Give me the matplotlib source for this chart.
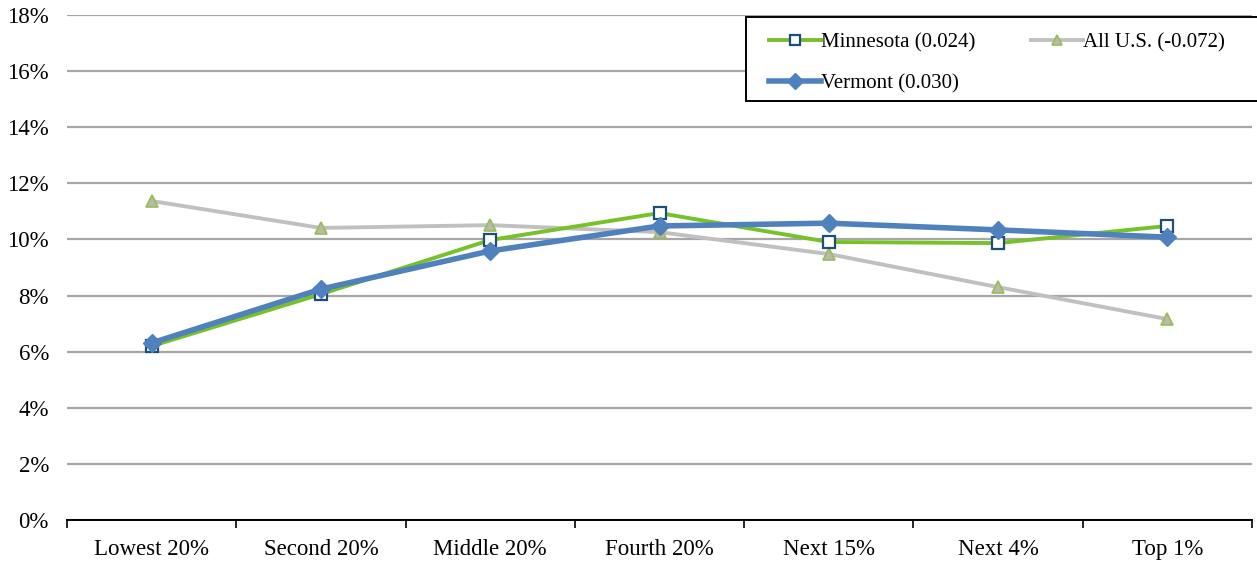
import numpy as np
import matplotlib
matplotlib.use("Agg")
import matplotlib.pyplot as plt
from matplotlib.patches import Rectangle
from matplotlib.ticker import FuncFormatter, FixedLocator

plt.rcParams['font.family'] = ['Liberation Serif', 'DejaVu Serif']

categories = ['Lowest 20%', 'Second 20%', 'Middle 20%', 'Fourth 20%',
              'Next 15%', 'Next 4%', 'Top 1%']
minnesota = [6.20, 8.05, 9.98, 10.94, 9.91, 9.87, 10.48]
all_us = [11.37, 10.41, 10.51, 10.26, 9.48, 8.30, 7.16]
vermont = [6.31, 8.23, 9.59, 10.48, 10.58, 10.34, 10.08]

fig = plt.figure(figsize=(12.57, 5.61), dpi=100)
ax = fig.add_axes([67 / 1257, 41 / 561, (1252 - 67) / 1257, (520 - 15) / 561])

x = np.arange(len(categories))

l_us, = ax.plot(x, all_us, color='#C0C0C0', lw=2.8, marker='^', ms=9,
                mfc='#B7BCA8', mec='#9BBB59', mew=1.2, zorder=3,
                label='All U.S. (-0.072)')
l_mn, = ax.plot(x, minnesota, color='#77C12A', lw=2.8, marker='s', ms=8.5,
                mfc='white', mec='#1F4E79', mew=1.6, zorder=4,
                label='Minnesota (0.024)')
l_vt, = ax.plot(x, vermont, color='#4F81BD', lw=4.0, marker='D', ms=9,
                mfc='#4F81BD', mec='#4F81BD', zorder=5,
                label='Vermont (0.030)')

ax.set_xlim(-0.5, len(categories) - 0.5)
ax.set_ylim(0, 18)
ax.set_yticks(np.arange(0, 19, 2))
ax.yaxis.set_major_formatter(FuncFormatter(lambda v, p: f'{v:.0f}%'))
ax.yaxis.grid(True, color='#A6A6A6', lw=1.6)
ax.set_axisbelow(True)
ax.tick_params(axis='y', length=0, pad=13, labelsize=16.5)

ax.set_xticks(x)
ax.set_xticklabels(categories)
ax.xaxis.set_minor_locator(FixedLocator(np.arange(-0.5, len(categories), 1)))
ax.tick_params(axis='x', which='major', length=0, pad=14, labelsize=16.5)
ax.tick_params(axis='x', which='minor', length=6, width=1.2, direction='out',
               color='black')

for side in ['top', 'right', 'left']:
    ax.spines[side].set_visible(False)
ax.spines['bottom'].set_color('black')
ax.spines['bottom'].set_linewidth(1.4)

# legend box runs off the right edge, as in the original
fig.patches.append(Rectangle((746 / 1257, 1 - 101 / 561), 0.5, 84 / 561,
                             transform=fig.transFigure, facecolor='white',
                             edgecolor='black', lw=1.4, zorder=10))

leg = fig.legend(handles=[l_mn, l_vt, l_us], ncol=2,
                 loc='upper left', bbox_to_anchor=(769 / 1257, 1 - 33 / 561),
                 borderaxespad=0.0, borderpad=0.0, fontsize=15,
                 handlelength=2.5, handletextpad=0.0, labelspacing=1.0,
                 columnspacing=2.65, frameon=False, markerscale=0.85)
leg.set_zorder(11)

fig.savefig('out.png', dpi=100)
